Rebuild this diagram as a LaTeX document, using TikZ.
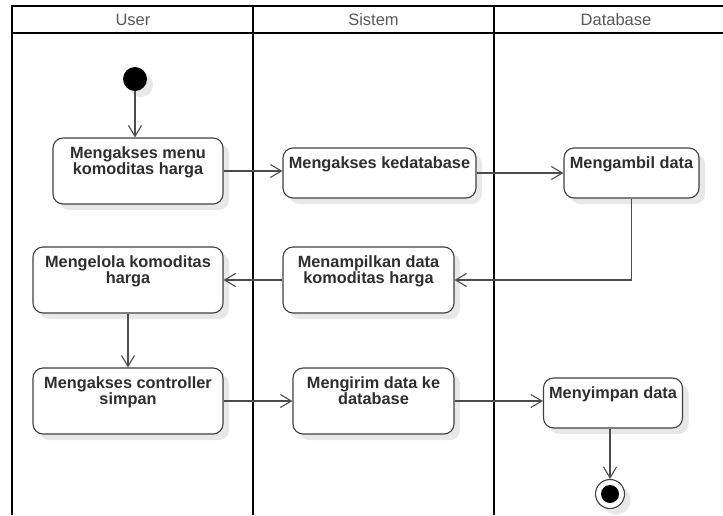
\documentclass[tikz,border=0pt]{standalone}
\usepackage{fontspec}
\setmainfont{Liberation Sans}
\usetikzlibrary{arrows.meta,shadows}
\begin{document}
\begin{tikzpicture}[x=1pt,y=-1pt,
  lane/.style={line width=2pt, draw=black},
  boxshadow/.style={drop shadow={shadow xshift=6pt, shadow yshift=-6pt, fill=black!9, opacity=1}},
  actbox/.style={draw=black!75, line width=1.1pt, rounded corners=10pt, fill=white, inner sep=0pt, boxshadow},
  acttext/.style={anchor=north, inner sep=0pt, align=center, font=\fontsize{16.3}{16.5}\selectfont\bfseries, text=black!82, yshift=-9pt},
  flow/.style={draw=black!70, line width=1.1pt, -{Straight Barb[length=11pt,width=13pt]}},
  lanetitle/.style={font=\fontsize{16.5}{18}\selectfont, text=black!65, inner sep=0pt}
]
\useasboundingbox (0,0) rectangle (723,515);

% swimlane frame
\draw[lane] (12,515) -- (12,6) -- (723,6);
\draw[lane] (12,33) -- (723,33);
\draw[lane] (253,6) -- (253,515);
\draw[lane] (494,6) -- (494,515);
\node[lanetitle] (hUser) at (133,20) {User};
\node[lanetitle] (hSistem) at (373.5,20) {Sistem};
\node[lanetitle] (hDb) at (616,20) {Database};

% start and end states
\node[circle, fill=black, minimum size=24pt, inner sep=0pt, boxshadow] (start) at (135,79) {};
\node[circle, draw=black!75, line width=1.1pt, fill=white, minimum size=29pt, inner sep=0pt, boxshadow] (end) at (610,494) {};
\node[circle, fill=black, minimum size=18pt, inner sep=0pt] (endDot) at (end) {};

% activities
\node[actbox, minimum width=170pt, minimum height=66pt] (n1) at (138,171) {};
\node[acttext] (t1) at (n1.north) {Mengakses menu\\komoditas harga};
\node[actbox, minimum width=193pt, minimum height=50pt] (n2) at (379.5,173) {};
\node[acttext] (t2) at (n2.north) {Mengakses kedatabase};
\node[actbox, minimum width=135pt, minimum height=50pt] (n3) at (631.5,173) {};
\node[acttext] (t3) at (n3.north) {Mengambil data};
\node[actbox, minimum width=190pt, minimum height=66pt] (n4) at (128,280) {};
\node[acttext] (t4) at (n4.north) {Mengelola komoditas\\harga};
\node[actbox, minimum width=171pt, minimum height=66pt] (n5) at (368.5,280) {};
\node[acttext] (t5) at (n5.north) {Menampilkan data\\komoditas harga};
\node[actbox, minimum width=190pt, minimum height=66pt] (n6) at (128,401) {};
\node[acttext] (t6) at (n6.north) {Mengakses controller\\simpan};
\node[actbox, minimum width=161pt, minimum height=66pt] (n7) at (373.5,401) {};
\node[acttext] (t7) at (n7.north) {Mengirim data ke\\database};
\node[actbox, minimum width=139pt, minimum height=50pt] (n8) at (613,403) {};
\node[acttext] (t8) at (n8.north) {Menyimpan data};

% control flow
\draw[flow] (start) -- (start |- n1.north);
\draw[flow] (n1.east) -- (n1.east -| n2.west);
\draw[flow] (n2.east) -- (n2.east -| n3.west);
\draw[flow] (n3.south) |- (n5.east);
\draw[flow] (n5.west) -- (n4.east);
\draw[flow] (n4.south) -- (n6.north);
\draw[flow] (n6.east) -- (n7.west);
\draw[flow] (n7.east) -- (n7.east -| n8.west);
\draw[flow] (n8.south -| end) -- (end);
\end{tikzpicture}
\end{document}
